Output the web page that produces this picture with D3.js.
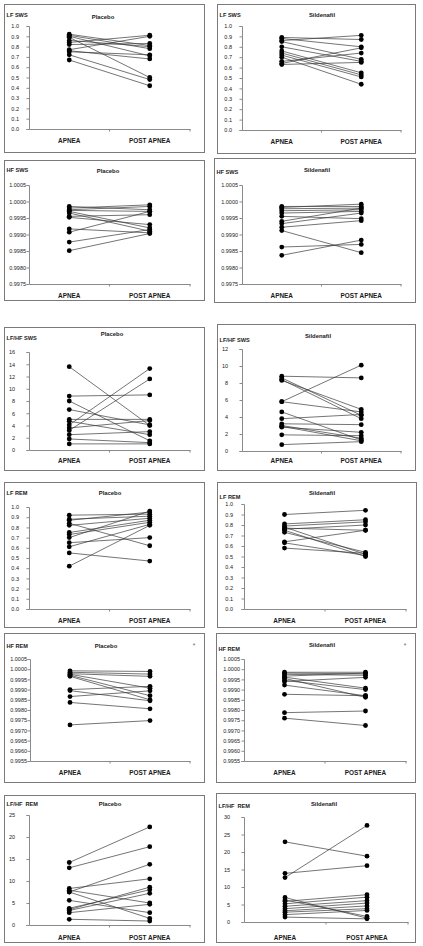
<!DOCTYPE html>
<html><head><meta charset="utf-8">
<script src="https://cdn.jsdelivr.net/npm/d3@7"></script>
<style>body{margin:0;background:#fff}svg{display:block}</style>
</head><body>
<script>
// ---------- DATA ----------
const categories = ["APNEA", "POST APNEA"];

const lfSwsPlaceboApnea = [0.92,0.91,0.90,0.89,0.86,0.84,0.82,0.77,0.76,0.75,0.72,0.67];
const lfSwsPlaceboPost  = [0.81,0.78,0.71,0.50,0.80,0.91,0.83,0.90,0.68,0.72,0.48,0.42];
const lfSwsSildApnea = [0.89,0.88,0.86,0.85,0.80,0.76,0.74,0.72,0.70,0.66,0.64,0.63];
const lfSwsSildPost  = [0.87,0.80,0.91,0.68,0.66,0.55,0.53,0.51,0.44,0.74,0.79,0.65];

const hfSwsPlaceboApnea = [0.99985,0.99980,0.99975,0.99973,0.99970,0.99965,0.99955,0.99952,0.99917,0.99907,0.99877,0.99851];
const hfSwsPlaceboPost  = [0.99975,0.99990,0.99985,0.99970,0.99920,0.99910,0.99960,0.99930,0.99905,0.99970,0.99915,0.99903];
const hfSwsSildApnea = [0.99985,0.99982,0.99978,0.99972,0.99965,0.99955,0.99940,0.99933,0.99922,0.99912,0.99862,0.99837];
const hfSwsSildPost  = [0.99985,0.99992,0.99980,0.99975,0.99970,0.99948,0.99980,0.99965,0.99942,0.99845,0.99870,0.99883];

const lfhfSwsPlaceboApnea = [13.6,8.8,8.0,6.6,5.0,4.7,4.1,3.6,3.2,2.5,1.8,1.0];
const lfhfSwsPlaceboPost  = [4.0,9.0,1.5,4.1,5.0,2.5,13.3,4.8,11.6,3.0,1.2,1.0];
const lfhfSwsSildApnea = [8.8,8.6,8.4,8.3,5.8,5.8,4.6,3.8,3.2,3.0,2.9,2.8,1.9,0.75];
const lfhfSwsSildPost  = [8.6,4.2,3.8,4.9,10.1,4.6,1.3,4.3,3.1,1.5,1.2,2.2,1.8,1.1];

const lfRemPlaceboApnea = [0.92,0.88,0.87,0.84,0.82,0.75,0.73,0.70,0.65,0.61,0.55,0.42];
const lfRemPlaceboPost  = [0.93,0.91,0.95,0.62,0.89,0.87,0.85,0.96,0.70,0.83,0.47,0.82];
const lfRemSildApnea = [0.90,0.81,0.79,0.78,0.77,0.76,0.75,0.73,0.64,0.63,0.58];
const lfRemSildPost  = [0.94,0.85,0.83,0.52,0.75,0.80,0.50,0.54,0.75,0.51,0.53];

const hfRemPlaceboApnea = [0.99992,0.99985,0.99978,0.99975,0.99970,0.99965,0.99900,0.99895,0.99866,0.99837,0.99727];
const hfRemPlaceboPost  = [0.99989,0.99976,0.99965,0.99907,0.99870,0.99850,0.99916,0.99845,0.99894,0.99806,0.99748];
const hfRemSildApnea = [0.99985,0.99981,0.99975,0.99966,0.99961,0.99955,0.99945,0.99940,0.99922,0.99877,0.99787,0.99760];
const hfRemSildPost  = [0.99985,0.99977,0.99970,0.99981,0.99907,0.99862,0.99900,0.99960,0.99870,0.99870,0.99795,0.99724];

const lfhfRemPlaceboApnea = [14.2,13.0,8.3,7.9,7.5,7.5,5.6,3.8,3.5,3.3,2.8,1.3];
const lfhfRemPlaceboPost  = [22.3,17.8,10.5,5.0,13.8,1.5,2.8,8.0,8.6,7.2,4.7,0.9];
const lfhfRemSildApnea = [22.9,13.9,12.7,7.0,6.3,5.9,5.2,4.5,3.8,3.2,2.8,2.1,1.4];
const lfhfRemSildPost  = [18.8,16.1,27.6,1.1,1.6,7.8,7.1,6.1,5.4,4.6,3.8,3.3,0.9];

// tick labels
const unitTicks = [0.0,0.1,0.2,0.3,0.4,0.5,0.6,0.7,0.8,0.9,1.0];
const hfSwsTicks = [0.9975,0.9980,0.9985,0.9990,0.9995,1.0000,1.0005];
const hfRemTicks = [0.9955,0.9960,0.9965,0.9970,0.9975,0.9980,0.9985,0.9990,0.9995,1.0000,1.0005];
const lfhfSwsPlaceboTicks = [0,2,4,6,8,10,12,14,16];
const lfhfSwsSildTicks = [0,2,4,6,8,10,12];
const lfhfRemPlaceboTicks = [0,5,10,15,20,25];
const lfhfRemSildTicks = [0,5,10,15,20,25,30];

// ---------- LAYOUT ----------
const panels = [
  {measure:"LF SWS", group:"Placebo", a:lfSwsPlaceboApnea, p:lfSwsPlaceboPost, ticks:unitTicks, dec:1,
   frame:[4,4,200,148], plot:[29,190,26,129], lblR:19, mT:15, gX:103, gY:17, cY:140},
  {measure:"LF SWS", group:"Sildenafil", a:lfSwsSildApnea, p:lfSwsSildPost, ticks:unitTicks, dec:1,
   frame:[217,4,198,149], plot:[242,401,26,130], lblR:232, mT:15, gX:322, gY:15, cY:141},
  {measure:"HF SWS", group:"Placebo", a:hfSwsPlaceboApnea, p:hfSwsPlaceboPost, ticks:hfSwsTicks, dec:4,
   frame:[4,160,200,140], plot:[29,190,185,284], lblR:26, mT:170, gX:108, gY:171, cY:295},
  {measure:"HF SWS", group:"Sildenafil", a:hfSwsSildApnea, p:hfSwsSildPost, ticks:hfSwsTicks, dec:4,
   frame:[214,158,201,144], plot:[242,401,185,284], lblR:238, mT:172, gX:317, gY:170, cY:295},
  {measure:"LF/HF SWS", group:"Placebo", a:lfhfSwsPlaceboApnea, p:lfhfSwsPlaceboPost, ticks:lfhfSwsPlaceboTicks, dec:0,
   frame:[4,327,200,143], plot:[29,190,352,450], lblR:15, mT:338, gX:112, gY:334, cY:460},
  {measure:"LF/HF SWS", group:"Sildenafil", a:lfhfSwsSildApnea, p:lfhfSwsSildPost, ticks:lfhfSwsSildTicks, dec:0,
   frame:[217,324,198,146], plot:[242,401,349,451], lblR:228, mT:340, gX:318, gY:336, cY:460},
  {measure:"LF REM", group:"Placebo", a:lfRemPlaceboApnea, p:lfRemPlaceboPost, ticks:unitTicks, dec:1,
   frame:[4,482,200,145], plot:[29,190,507,609], lblR:19, mT:493, gX:110, gY:493, cY:620},
  {measure:"LF REM", group:"Sildenafil", a:lfRemSildApnea, p:lfRemSildPost, ticks:unitTicks, dec:1,
   frame:[217,482,199,145], plot:[244,406,504,609], lblR:233, mT:497, gX:322, gY:493, cY:620},
  {measure:"HF REM", group:"Placebo", a:hfRemPlaceboApnea, p:hfRemPlaceboPost, ticks:hfRemTicks, dec:4, star:[194,645],
   frame:[4,633,200,149], plot:[30,190,659,761], lblR:27, mT:646, gX:106, gY:646, cY:772},
  {measure:"HF REM", group:"Sildenafil", a:hfRemSildApnea, p:hfRemSildPost, ticks:hfRemTicks, dec:4, star:[405,645],
   frame:[216,633,199,149], plot:[244,406,659,761], lblR:240, mT:649, gX:322, gY:645, cY:772},
  {measure:"LF/HF  REM", group:"Placebo", a:lfhfRemPlaceboApnea, p:lfhfRemPlaceboPost, ticks:lfhfRemPlaceboTicks, dec:0,
   frame:[4,795,200,147], plot:[29,190,815,925], lblR:15, mT:804, gX:110, gY:804, cY:937},
  {measure:"LF/HF  REM", group:"Sildenafil", a:lfhfRemSildApnea, p:lfhfRemSildPost, ticks:lfhfRemSildTicks, dec:0,
   frame:[216,793,199,149], plot:[244,408,817,922], lblR:230, mT:806, gX:324, gY:804, cY:937}
];

const W = 423, H = 946;
const svg = d3.select("body").append("svg").attr("width", W).attr("height", H)
  .style("font-family", "'Liberation Sans', Arial, sans-serif");

panels.forEach(P => {
  const [fx, fy, fw, fh] = P.frame;
  const [x0, x1, yTop, yBot] = P.plot;
  const g = svg.append("g");
  g.append("rect").attr("x", fx + 0.5).attr("y", fy + 0.5).attr("width", fw).attr("height", fh)
    .attr("fill", "#fff").attr("stroke", "#7a7a7a").attr("stroke-width", 1);

  const x = d3.scaleBand().domain(categories).range([x0, x1]);
  const y = d3.scaleLinear().domain(d3.extent(P.ticks)).range([yBot, yTop]);

  // y axis
  const yAxis = d3.axisLeft(y).tickValues(P.ticks).tickFormat(d3.format("." + P.dec + "f"))
    .tickSize(2.5).tickPadding(0);
  const ya = g.append("g").attr("transform", `translate(${x0},0)`).call(yAxis);
  ya.select(".domain").attr("stroke", "#8a8a8a");
  ya.selectAll(".tick line").attr("stroke", "#8a8a8a");
  ya.selectAll(".tick text").attr("x", P.lblR - x0).attr("font-size", 5.5).attr("fill", "#1a1a1a")
    .attr("font-family", "'Liberation Sans', Arial, sans-serif");

  // x axis
  const xa = g.append("g").attr("transform", `translate(0,${yBot})`)
    .call(d3.axisBottom(x).tickSize(0).tickFormat(""));
  xa.select(".domain").attr("stroke", "#8a8a8a");
  xa.selectAll(".tick").remove();
  const bounds = [x(categories[1]), x1];
  g.selectAll(".xb").data(bounds).join("line")
    .attr("x1", d => d).attr("x2", d => d).attr("y1", yBot).attr("y2", yBot + 2.5)
    .attr("stroke", "#8a8a8a");

  // category labels
  g.selectAll(".cat").data(categories).join("text")
    .attr("x", d => x(d) + x.bandwidth() / 2).attr("y", P.cY)
    .attr("text-anchor", "middle").attr("dominant-baseline", "central")
    .attr("font-size", 6.4).attr("font-weight", "bold").attr("fill", "#1a1a1a").text(d => d);

  // measure & group titles
  g.append("text").attr("x", fx + 2.5).attr("y", P.mT).attr("dominant-baseline", "central")
    .attr("font-size", 5.6).attr("font-weight", "bold").attr("fill", "#1a1a1a").style("white-space", "pre")
    .text(P.measure);
  g.append("text").attr("x", P.gX).attr("y", P.gY).attr("text-anchor", "middle").attr("dominant-baseline", "central")
    .attr("font-size", 5.9).attr("font-weight", "bold").attr("fill", "#1a1a1a").text(P.group);
  if (P.star) {
    g.append("text").attr("x", P.star[0]).attr("y", P.star[1]).attr("text-anchor", "middle").attr("dominant-baseline", "central")
      .attr("font-size", 6.5).attr("fill", "#666").text("*");
  }

  // subject lines
  const pairs = P.a.map((v, i) => [v, P.p[i]]);
  const cx = c => x(c) + x.bandwidth() / 2;
  g.selectAll(".sl").data(pairs).join("line")
    .attr("x1", cx(categories[0])).attr("x2", cx(categories[1]))
    .attr("y1", d => y(d[0])).attr("y2", d => y(d[1]))
    .attr("stroke", "#3a3a3a").attr("stroke-width", 0.7);
  const pts = [];
  pairs.forEach(d => { pts.push([categories[0], d[0]]); pts.push([categories[1], d[1]]); });
  g.selectAll(".pt").data(pts).join("circle")
    .attr("cx", d => cx(d[0])).attr("cy", d => y(d[1])).attr("r", 2.4).attr("fill", "#000");
});
</script>
</body></html>
